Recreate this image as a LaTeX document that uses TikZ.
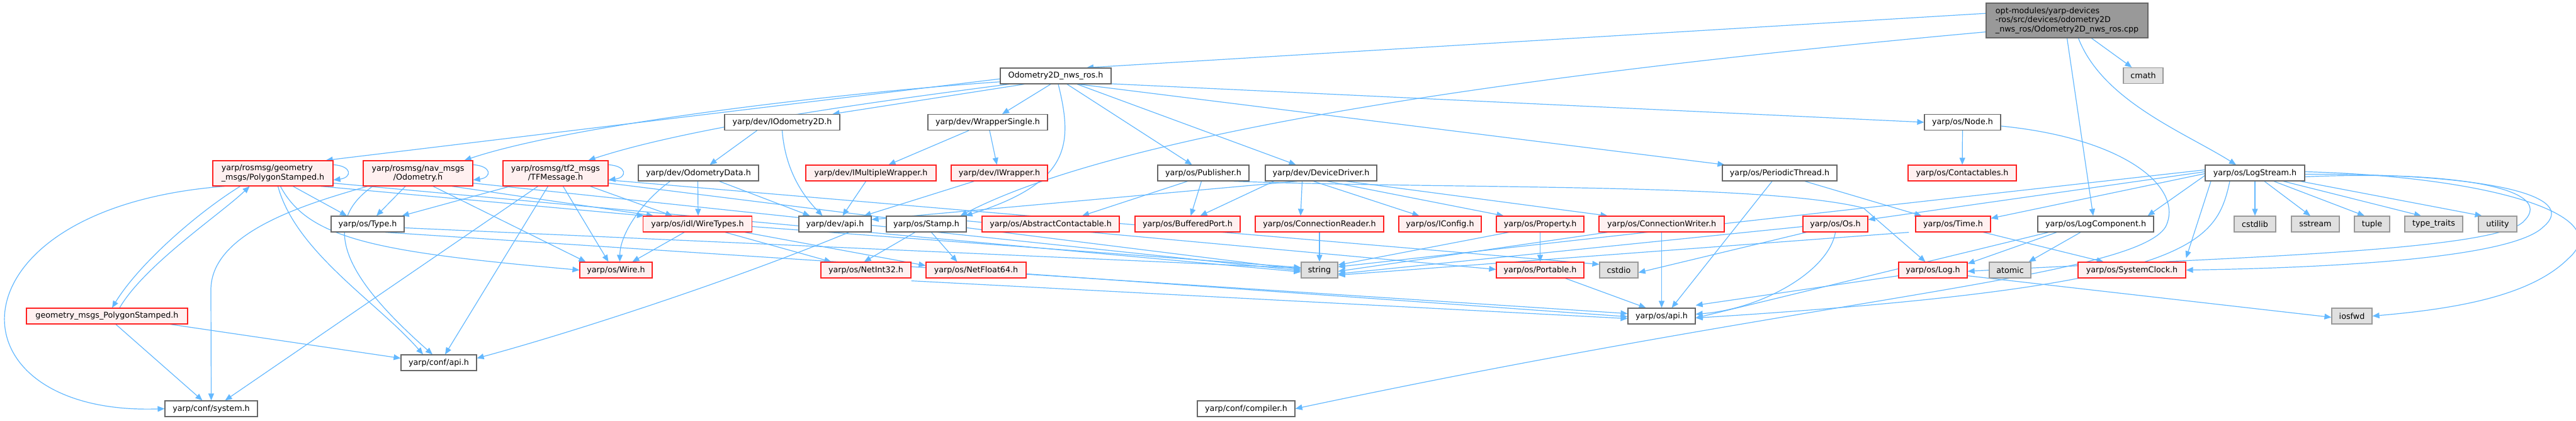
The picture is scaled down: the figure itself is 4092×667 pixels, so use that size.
\documentclass[tikz,border=0pt]{standalone}
\usepackage{fontspec}
\setmainfont{DejaVu Sans}
\usetikzlibrary{arrows.meta, positioning, backgrounds}
\definecolor{edgeblue}{HTML}{63B8FF}
\definecolor{greyforty}{HTML}{666666}
\definecolor{greysixty}{HTML}{999999}
\definecolor{sysfill}{HTML}{E0E0E0}
\definecolor{redfill}{HTML}{FFF0F0}
\definecolor{redline}{HTML}{FF2020}

\begin{document}
\begin{tikzpicture}[x=1pt, y=-1pt,
				box/.style={draw=greyforty, fill=white, line width=1.2pt, minimum height=25pt, inner sep=0pt, align=center, font=\fontsize{12.7}{14.5}\selectfont},
				redbox/.style={box, draw=redline, fill=redfill},
				sysbox/.style={box, draw=greysixty, fill=sysfill},
				rootbox/.style={box, fill=greysixty},
				arrow/.style={-{Triangle[length=11pt, width=9pt]}, draw=edgeblue, line width=1.2pt}]

				\useasboundingbox (0,0) rectangle (4092,667);

				\node[rootbox, minimum width=257pt, minimum height=55pt, align=left] (root) at (3283.5,32.5) {opt-modules/yarp-devices\\-ros/src/devices/odometry2D\\\_nws\_ros/Odometry2D\_nws\_ros.cpp};
				\node[sysbox, minimum width=63pt] (cmath) at (3404.5,120) {cmath};
				\node[box, minimum width=176pt] (odoh) at (1677,120.5) {Odometry2D\_nws\_ros.h};

				\node[box, minimum width=183pt] (iodo) at (1242.5,194) {yarp/dev/IOdometry2D.h};
				\node[box, minimum width=190pt] (wrapsingle) at (1569,194) {yarp/dev/WrapperSingle.h};
				\node[box, minimum width=121pt] (node) at (3117.5,194) {yarp/os/Node.h};

				\node[redbox, minimum width=191pt, minimum height=40pt, align=left] (polyst) at (433.5,275) {yarp/rosmsg/geometry\\\_msgs/PolygonStamped.h};
				\node[redbox, minimum width=174pt, minimum height=40pt] (navodo) at (664,275) {yarp/rosmsg/nav\_msgs\\/Odometry.h};
				\node[redbox, minimum width=167pt, minimum height=40pt] (tfmsg) at (882.5,275) {yarp/rosmsg/tf2\_msgs\\/TFMessage.h};
				\node[box, minimum width=191pt] (ododata) at (1109.5,274.5) {yarp/dev/OdometryData.h};
				\node[redbox, minimum width=207pt] (imultwrap) at (1383.5,274.5) {yarp/dev/IMultipleWrapper.h};
				\node[redbox, minimum width=153pt] (iwrap) at (1587.5,274.5) {yarp/dev/IWrapper.h};
				\node[box, minimum width=145pt] (publisher) at (1911.5,274.5) {yarp/os/Publisher.h};
				\node[box, minimum width=177pt] (devdriver) at (2098.5,274.5) {yarp/dev/DeviceDriver.h};
				\node[box, minimum width=182pt] (perthread) at (2827,274.5) {yarp/os/PeriodicThread.h};
				\node[redbox, minimum width=172pt] (contactables) at (3117,274.5) {yarp/os/Contactables.h};
				\node[box, minimum width=158pt] (logstream) at (3582,274.5) {yarp/os/LogStream.h};

				\node[box, minimum width=116pt] (type) at (584,355.5) {yarp/os/Type.h};
				\node[redbox, minimum width=173pt] (wiretypes) at (1108,355.5) {yarp/os/idl/WireTypes.h};
				\node[box, minimum width=115pt] (devapi) at (1326.5,355.5) {yarp/dev/api.h};
				\node[box, minimum width=127pt] (stamp) at (1471.5,355.5) {yarp/os/Stamp.h};
				\node[redbox, minimum width=218pt] (abscont) at (1669,355.5) {yarp/os/AbstractContactable.h};
				\node[redbox, minimum width=167pt] (bufport) at (1886.5,355.5) {yarp/os/BufferedPort.h};
				\node[redbox, minimum width=204pt] (connreader) at (2096,355.5) {yarp/os/ConnectionReader.h};
				\node[redbox, minimum width=131pt] (iconfig) at (2287.5,355.5) {yarp/os/IConfig.h};
				\node[redbox, minimum width=139pt] (property) at (2446.5,355.5) {yarp/os/Property.h};
				\node[redbox, minimum width=199pt] (connwriter) at (2639.5,355.5) {yarp/os/ConnectionWriter.h};
				\node[redbox, minimum width=103pt] (os) at (2915.5,355.5) {yarp/os/Os.h};
				\node[redbox, minimum width=119pt] (time) at (3102.5,355.5) {yarp/os/Time.h};
				\node[box, minimum width=184pt] (logcomp) at (3329,355.5) {yarp/os/LogComponent.h};
				\node[sysbox, minimum width=66pt] (cstdlib) at (3582,355.5) {cstdlib};
				\node[sysbox, minimum width=76pt] (sstream) at (3678,355.5) {sstream};
				\node[sysbox, minimum width=56pt] (tuple) at (3768,355.5) {tuple};
				\node[sysbox, minimum width=92pt] (typetraits) at (3866,355.5) {type\_traits};
				\node[sysbox, minimum width=61pt] (utility) at (3967.5,355.5) {utility};

				\node[redbox, minimum width=115pt] (wire) at (978.5,428.5) {yarp/os/Wire.h};
				\node[redbox, minimum width=143pt] (netint) at (1375.5,428.5) {yarp/os/NetInt32.h};
				\node[redbox, minimum width=159pt] (netfloat) at (1550.5,428.5) {yarp/os/NetFloat64.h};
				\node[sysbox, minimum width=58pt] (string) at (2096,428.5) {string};
				\node[redbox, minimum width=139pt] (portable) at (2446.5,428.5) {yarp/os/Portable.h};
				\node[sysbox, minimum width=61pt] (cstdio) at (2571.5,428.5) {cstdio};
				\node[redbox, minimum width=109pt] (log) at (3070.5,428.5) {yarp/os/Log.h};
				\node[sysbox, minimum width=66pt] (atomic) at (3193,428.5) {atomic};
				\node[redbox, minimum width=171pt] (sysclock) at (3386.5,428.5) {yarp/os/SystemClock.h};

				\node[redbox, minimum width=256pt] (geopoly) at (170,501.5) {geometry\_msgs\_PolygonStamped.h};
				\node[box, minimum width=107pt] (osapi) at (2639.5,501.5) {yarp/os/api.h};
				\node[sysbox, minimum width=64pt] (iosfwd) at (3736,501.5) {iosfwd};

				\node[box, minimum width=120pt] (confapi) at (697,575.5) {yarp/conf/api.h};
				\node[box, minimum width=147pt] (system) at (335.5,648.5) {yarp/conf/system.h};
				\node[box, minimum width=155pt] (compiler) at (1979.5,648.5) {yarp/conf/compiler.h};

				\begin{scope}[on background layer]
				\draw[arrow] (root.175) -- (odoh.15);
				\draw[arrow] (root) -- (cmath);
				\draw[arrow] (root.south) -- ([xshift=-4pt]logcomp.north);
				\draw[arrow] ([xshift=18pt]root.south) .. controls (3340,160) and (3470,210) .. ([xshift=-30pt]logstream.north);
				\draw[arrow] (root.188) .. controls (2500,110) and (1800,200) .. ([xshift=-10pt]stamp.north east);

				\draw[arrow] (odoh.183) -- ([xshift=-12pt]polyst.north east);
				\draw[arrow] (odoh.186) .. controls (1300,150) and (900,200) .. ([xshift=-14pt]navodo.north east);
				\draw[arrow] (odoh.190) .. controls (1400,160) and (1100,200) .. ([xshift=-32pt]tfmsg.north east);
				\draw[arrow] ([xshift=-50pt]odoh.south) -- ([xshift=-12pt]iodo.north east);
				\draw[arrow] ([xshift=-8pt]odoh.south) -- ([xshift=23pt]wrapsingle.north);
				\draw[arrow] ([xshift=4pt]odoh.south) .. controls (1705,230) and (1700,290) .. ([xshift=-2pt]stamp.north east);
				\draw[arrow] ([xshift=18pt]odoh.south) -- ([xshift=-18pt]publisher.north);
				\draw[arrow] ([xshift=34pt]odoh.south) -- ([xshift=-40pt]devdriver.north);
				\draw[arrow] (odoh.-8) -- (node.west);
				\draw[arrow] (odoh.-20) -- ([xshift=4pt]perthread.north west);

				\draw[arrow] ([xshift=-40pt]iodo.south) -- ([xshift=18pt]ododata.north);
				\draw[arrow] (iodo.south) .. controls (1248,280) and (1285,320) .. ([xshift=-20pt]devapi.north);
				\draw[arrow] ([xshift=-30pt]wrapsingle.south) -- ([xshift=28pt]imultwrap.north);
				\draw[arrow] ([xshift=3pt]wrapsingle.south) -- ([xshift=-4pt]iwrap.north);
				\draw[arrow] ([xshift=-8pt]imultwrap.south) -- ([xshift=12pt]devapi.north);
				\draw[arrow] ([xshift=-40pt]iwrap.south) -- ([xshift=46pt]devapi.north);

				\draw[arrow] ([xshift=-45pt]ododata.south) .. controls (1020,320) and (985,370) .. ([xshift=6pt]wire.north);
				\draw[arrow] ([xshift=-1pt]ododata.south) -- ([xshift=1pt]wiretypes.north);
				\draw[arrow] ([xshift=33pt]ododata.south) -- ([xshift=-40pt]devapi.north);

				\draw[arrow] ([yshift=-7pt]polyst.north east) .. controls +(30pt,-2pt) and +(30pt,4pt) .. ([yshift=10pt]polyst.south east);
				\draw[arrow] ([yshift=-7pt]navodo.north east) .. controls +(30pt,-2pt) and +(30pt,4pt) .. ([yshift=10pt]navodo.south east);
				\draw[arrow] ([yshift=-7pt]tfmsg.north east) .. controls +(30pt,-2pt) and +(30pt,4pt) .. ([yshift=10pt]tfmsg.south east);

				\draw[arrow] ([xshift=-52pt]polyst.south) .. controls (310,340) and (220,420) .. ([xshift=8pt]geopoly.north);
				\draw[arrow] ([xshift=20pt]geopoly.north) .. controls (230,420) and (350,340) .. ([xshift=-37pt]polyst.south);
				\draw[arrow] (polyst.195) .. controls (-90,330) and (-90,660) .. (system.west);
				\draw[arrow] ([xshift=8pt]polyst.south) .. controls (470,400) and (600,480) .. ([xshift=-25pt]confapi.north);
				\draw[arrow] ([xshift=32pt]polyst.south) -- ([xshift=-33pt]type.north);
				\draw[arrow] ([xshift=12pt]polyst.south) .. controls (490,380) and (600,400) .. (wire.west);
				\draw[arrow] ([xshift=-20pt]polyst.south east) -- ([xshift=2pt]wiretypes.north west);
				\draw[arrow] ([yshift=5pt]polyst.south east) -- ([yshift=-3pt]string.west);

				\draw[arrow] ([xshift=-80pt]navodo.south) .. controls (480,325) and (335,370) .. (335,460) -- (system.north);
				\draw[arrow] ([xshift=-72pt]navodo.south) .. controls (500,360) and (560,450) .. ([xshift=-10pt]confapi.north);
				\draw[arrow] ([xshift=-20pt]navodo.south) -- ([xshift=14pt]type.north);
				\draw[arrow] ([xshift=24pt]navodo.south) -- ([xshift=-48pt]wire.north);
				\draw[arrow] ([xshift=54pt]navodo.south) -- ([xshift=-70pt]wiretypes.north);
				\draw[arrow] ([yshift=5pt]navodo.south east) -- ([yshift=-1pt]string.west);

				\draw[arrow] ([xshift=12pt]tfmsg.south west) -- ([xshift=-4pt]type.north east);
				\draw[arrow] ([xshift=-28pt]tfmsg.south) -- ([xshift=22pt]system.north);
				\draw[arrow] ([xshift=-12pt]tfmsg.south) -- ([xshift=10pt]confapi.north);
				\draw[arrow] ([xshift=12pt]tfmsg.south) -- ([xshift=-12pt]wire.north);
				\draw[arrow] ([xshift=55pt]tfmsg.south) -- ([xshift=-40pt]wiretypes.north);
				\draw[arrow] ([yshift=5pt]tfmsg.south east) -- ([yshift=1pt]string.west);
				\draw[arrow] ([yshift=10pt]tfmsg.south east) -- ([yshift=-4pt]cstdio.north west);

				\draw[arrow] ([xshift=14pt]geopoly.south) -- ([xshift=-14pt]system.north);
				\draw[arrow] ([xshift=-28pt]geopoly.south east) -- ([yshift=-6pt]confapi.north west);

				\draw[arrow] ([yshift=-6pt]type.east) -- ([yshift=3pt]string.west);
				\draw[arrow] ([xshift=28pt]type.south) -- ([yshift=4pt]osapi.west);

				\draw[arrow] ([xshift=-21pt]wiretypes.south) -- ([xshift=26pt]wire.north);
				\draw[arrow] ([xshift=44pt]wiretypes.south) -- ([xshift=-55pt]netint.north);
				\draw[arrow] ([xshift=-12pt]wiretypes.south east) -- ([yshift=-6pt]netfloat.north west);
				\draw[arrow] ([yshift=-4pt]wiretypes.east) -- ([yshift=4pt]string.west);

				\draw[arrow] ([xshift=22pt]devapi.south) .. controls (1150,450) and (900,530) .. ([yshift=-6pt]confapi.north east);
				\draw[arrow] ([xshift=-18pt]stamp.south) -- ([xshift=-75pt]netint.north east);
				\draw[arrow] ([xshift=8pt]stamp.south) -- ([xshift=-30pt]netfloat.north);
				\draw[arrow] ([yshift=5pt]stamp.east) -- ([yshift=1pt]portable.west);

				\draw[arrow] ([yshift=-4pt]netint.south east) -- ([yshift=-4pt]osapi.west);
				\draw[arrow] ([yshift=-6pt]netfloat.east) -- ([yshift=-1pt]osapi.west);
				\draw[arrow] ([xshift=40pt]portable.south) -- ([xshift=-25pt]osapi.north);

				\draw[arrow] (connreader) -- (string);
				\draw[arrow] ([xshift=-50pt]property.south) -- ([yshift=-5pt]string.north east);
				\draw[arrow] (property) -- (portable);
				\draw[arrow] ([xshift=-86pt]connwriter.south) -- ([yshift=-2pt]string.east);
				\draw[arrow] (connwriter) -- (osapi);

				\draw[arrow] ([xshift=-38pt]devdriver.south) -- ([yshift=-6pt]devapi.north east);
				\draw[arrow] ([xshift=-75pt]devdriver.south) -- ([xshift=20pt]bufport.north);
				\draw[arrow] ([xshift=-30pt]devdriver.south) -- ([xshift=-30pt]connreader.north);
				\draw[arrow] ([xshift=-12pt]devdriver.south) -- ([xshift=-33pt]iconfig.north);
				\draw[arrow] ([xshift=10pt]devdriver.south) -- ([xshift=-58pt]property.north);
				\draw[arrow] ([xshift=40pt]devdriver.south) -- ([xshift=-86pt]connwriter.north);

				\draw[arrow] ([xshift=-25pt]publisher.south) -- ([xshift=50pt]abscont.north);
				\draw[arrow] ([xshift=-3pt]publisher.south) -- ([xshift=5pt]bufport.north);
				\draw[arrow] ([xshift=48pt]publisher.south) .. controls (2300,300) and (2800,290) .. (2960,330) -- ([xshift=-12pt]log.north);

				\draw[arrow] ([xshift=-12pt]perthread.south) -- ([xshift=16pt]osapi.north);
				\draw[arrow] ([xshift=40pt]perthread.south) -- ([xshift=-50pt]time.north);

				\draw[arrow] (node) -- (contactables);
				\draw[arrow] ([yshift=-6pt]node.east) .. controls (3380,220) and (3470,300) .. (3440,360) .. controls (3390,440) and (2900,470) .. (compiler.east);

				\draw[arrow] (os.south) .. controls (2905,430) and (2800,490) .. ([yshift=3pt]osapi.east);
				\draw[arrow] ([yshift=-4pt]os.west) -- ([yshift=-6pt]string.east);
				\draw[arrow] ([xshift=6pt]os.south west) -- ([yshift=-4pt]cstdio.east);
				\draw[arrow] ([xshift=-10pt]time.south west) -- ([yshift=-8pt]string.east);
				\draw[arrow] ([xshift=-12pt]time.south east) -- ([xshift=-45pt]sysclock.north);
				\draw[arrow] ([yshift=4pt]log.south west) -- ([yshift=4pt]osapi.north east);
				\draw[arrow] ([yshift=4pt]log.south east) -- ([yshift=-2pt]iosfwd.west);

				\draw[arrow] ([xshift=-62pt]logcomp.south) -- ([yshift=-3pt]log.north east);
				\draw[arrow] ([xshift=-24pt]logcomp.south) -- ([xshift=-4pt]atomic.north east);
				\draw[arrow] ([xshift=-75pt]logcomp.south) -- ([yshift=-3pt]osapi.east);

				\draw[arrow] ([yshift=-4pt]logstream.west) -- ([xshift=-10pt]logcomp.north east);
				\draw[arrow] ([yshift=-1pt]logstream.west) -- ([yshift=-4pt]time.north east);
				\draw[arrow] ([yshift=2pt]logstream.west) -- ([yshift=-6pt]os.north east);
				\draw[arrow] ([yshift=5pt]logstream.west) -- ([yshift=-8pt]string.north east);
				\draw[arrow] ([xshift=-70pt]logstream.south) -- ([yshift=6pt]sysclock.north east);
				\draw[arrow] ([xshift=-40pt]logstream.south) .. controls (3520,390) and (3480,455) .. ([yshift=-3pt]osapi.east);
				\draw[arrow] (logstream.south) -- (cstdlib.north);
				\draw[arrow] ([xshift=15pt]logstream.south) -- ([xshift=-8pt]sstream.north);
				\draw[arrow] ([xshift=30pt]logstream.south) -- ([xshift=-12pt]tuple.north);
				\draw[arrow] ([xshift=45pt]logstream.south) -- ([xshift=-20pt]typetraits.north);
				\draw[arrow] ([xshift=72pt]logstream.south) -- ([xshift=-25pt]utility.north);
				\draw[arrow] ([yshift=-6pt]logstream.east) .. controls (3900,270) and (4060,300) .. (4010,350) .. controls (3970,400) and (3500,410) .. ([yshift=-2pt]log.east);
				\draw[arrow] ([yshift=-2pt]logstream.east) .. controls (3950,275) and (4100,310) .. (4040,360) .. controls (3990,410) and (3700,425) .. (sysclock.east);
				\draw[arrow] ([yshift=2pt]logstream.east) .. controls (3950,280) and (4160,340) .. (4080,410) .. controls (4020,470) and (3900,490) .. (iosfwd.east);
				\end{scope}
			\end{tikzpicture}
\end{document}
